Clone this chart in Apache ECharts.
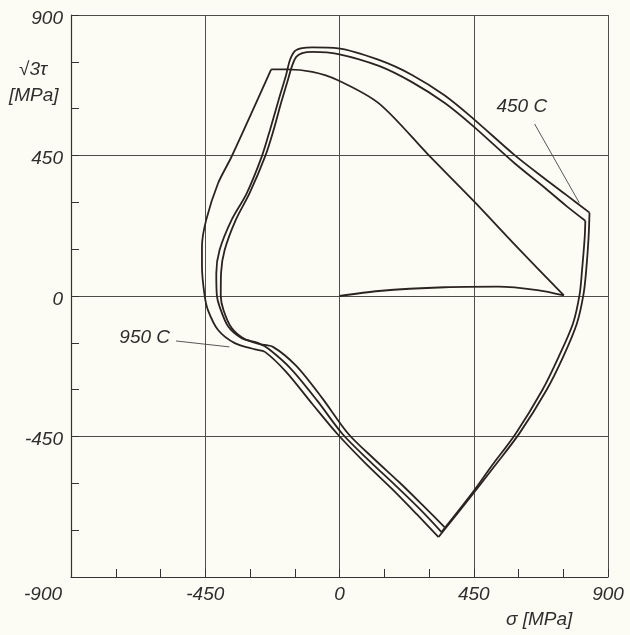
<!DOCTYPE html>
<html>
<head>
<meta charset="utf-8">
<style>
  html, body { margin: 0; padding: 0; background: #fcfcf4; }
  #chart { width: 630px; height: 635px; }
</style>
<script src="https://cdn.jsdelivr.net/npm/echarts@6/dist/echarts.min.js"></script>
</head>
<body>
<div id="chart"></div>
<script>
// Axis ticks for both stress axes [MPa]
const axisTicks = [-900, -450, 0, 450, 900];

// Stress path points as [sigma, sqrt(3)*tau] in MPa
// initial tensile loading from the origin
const loadingPath = [[0, 0], [132, 16], [353, 28], [531, 30], [663, 19], [752, 2]];
// first cycle: combined unloading up to the shear plateau
const firstCycleRise = [[752, 2], [601, 151], [447, 307], [298, 452], [132, 617], [-7, 692], [-91, 718], [-176, 726], [-229, 726]];
// first cycle: outer branch (950 C) down to the compressive corner
const firstCycleOuter = [[-229, 726], [-362, 446], [-407, 361], [-447, 243], [-461, 158], [-461, 94], [-452, 1], [-441, -45], [-407, -109], [-351, -151], [-283, -171], [-250, -179], [-179, -243], [-91, -346], [-7, -442], [83, -532], [176, -618], [259, -699], [332, -772]];
// rising branch towards the 450 C corner, first pass
const rightBranchA = [[332, -772], [453, -627], [518, -547], [603, -440], [694, -301], [750, -194], [796, -87], [818, 6], [827, 83], [835, 189], [838, 267]];
// second cycle: upper arc, left branch and descending branch
const cycleTwo = [[838, 267], [761, 323], [685, 378], [586, 452], [447, 569], [353, 642], [243, 708], [132, 756], [-4, 793], [-91, 796], [-125, 794], [-149, 785], [-166, 756], [-179, 708], [-204, 628], [-233, 532], [-260, 448], [-311, 329], [-362, 243], [-402, 147], [-413, 73], [-411, 1], [-402, -34], [-373, -98], [-328, -135], [-272, -151], [-237, -170], [-162, -234], [-74, -336], [10, -442], [100, -528], [189, -608], [272, -685], [342, -756]];
// rising branch, second pass
const rightBranchB = [[342, -756], [448, -627], [508, -547], [591, -440], [680, -301], [735, -194], [783, -87], [805, 6], [813, 83], [822, 189], [824, 241]];
// third cycle
const cycleThree = [[824, 241], [761, 288], [685, 349], [586, 426], [447, 545], [353, 618], [243, 685], [132, 737], [-4, 775], [-91, 782], [-125, 778], [-145, 766], [-159, 737], [-173, 692], [-196, 618], [-223, 525], [-249, 448], [-301, 330], [-348, 243], [-385, 147], [-397, 74], [-398, 1], [-389, -45], [-362, -102], [-318, -138], [-267, -154], [-223, -163], [-145, -224], [-58, -327], [30, -442], [116, -522], [203, -599], [282, -673], [352, -740]];

// Temperature annotations: text, anchor and leader line
const annotationText = ['450 C', '950 C'];
const annotationAnchor = [[611, 605], [-653, -135]];
const leader450 = [[654, 551], [804, 298]];
const leader950 = [[-548, -144], [-369, -163]];

const ink = '#2b231f';
const gridInk = '#4f4f4a';
const textInk = '#2e2e2e';
const font = "'Liberation Sans', 'DejaVu Sans', sans-serif";
const fs = 19;

const pathSeries = (data) => ({
  type: 'line', data, symbol: 'none', showSymbol: false, smooth: 0.3,
  lineStyle: { color: ink, width: 1.8 }, silent: true, z: 3
});
const leaderSeries = (data) => ({
  type: 'line', data, symbol: 'none', showSymbol: false,
  lineStyle: { color: '#444', width: 0.9 }, silent: true, z: 2
});

const axisCommon = {
  type: 'value',
  min: axisTicks[0],
  max: axisTicks[axisTicks.length - 1],
  interval: axisTicks[1] - axisTicks[0],
  axisLine: { show: true, onZero: false, lineStyle: { color: '#333', width: 1.2 } },
  axisTick: { show: true, inside: true, length: 8, lineStyle: { color: '#333', width: 1 } },
  minorTick: { show: true, splitNumber: 3, length: 8, lineStyle: { color: '#333', width: 1 } },
  splitLine: { show: true, lineStyle: { color: gridInk, width: 1 } },
  minorSplitLine: { show: false }
};

const textStyle = (text) => ({ text, fill: textInk, fontSize: fs, fontStyle: 'italic', fontFamily: font });

const chart = echarts.init(document.getElementById('chart'));
chart.setOption({
  animation: false,
  backgroundColor: '#fcfcf4',
  grid: { left: 71, right: 22, top: 15, bottom: 58 },
  xAxis: Object.assign({}, axisCommon, {
    axisLabel: {
      margin: 8, color: textInk, fontSize: fs, fontStyle: 'italic', fontFamily: font,
      showMinLabel: true, showMaxLabel: true,
      formatter: v => v === axisTicks[0] ? '{lead|' + v + '}' : String(v),
      rich: { lead: { padding: [0, 56, 0, 0], color: textInk, fontSize: fs, fontStyle: 'italic', fontFamily: font } }
    }
  }),
  yAxis: Object.assign({}, axisCommon, {
    axisLabel: {
      margin: 8, color: textInk, fontSize: fs, fontStyle: 'italic', fontFamily: font,
      showMinLabel: true, showMaxLabel: true,
      formatter: v => v === axisTicks[0] ? '' : '{v|' + v + '}',
      rich: { v: { padding: [7, 0, 0, 0], color: textInk, fontSize: fs, fontStyle: 'italic', fontFamily: font } }
    }
  }),
  series: [
    pathSeries(loadingPath),
    pathSeries(firstCycleRise),
    pathSeries(firstCycleOuter),
    pathSeries(rightBranchA),
    pathSeries(cycleTwo),
    pathSeries(rightBranchB),
    pathSeries(cycleThree),
    leaderSeries(leader450),
    leaderSeries(leader950)
  ]
});

// Axis titles and temperature labels, the latter placed through the grid's coordinate system
const annotationGraphics = annotationText.map((text, i) => {
  const p = chart.convertToPixel({ gridIndex: 0 }, annotationAnchor[i]);
  return { type: 'text', x: p[0], y: p[1], style: Object.assign(textStyle(text), { textAlign: 'center', textVerticalAlign: 'middle' }), z: 10 };
});
chart.setOption({
  graphic: [
    { type: 'text', left: 19, top: 60, style: textStyle('√3τ') },
    { type: 'text', left: 9, top: 86, style: textStyle('[MPa]') },
    { type: 'text', left: 506, top: 610, style: textStyle('σ [MPa]') }
  ].concat(annotationGraphics)
});
</script>
</body>
</html>
